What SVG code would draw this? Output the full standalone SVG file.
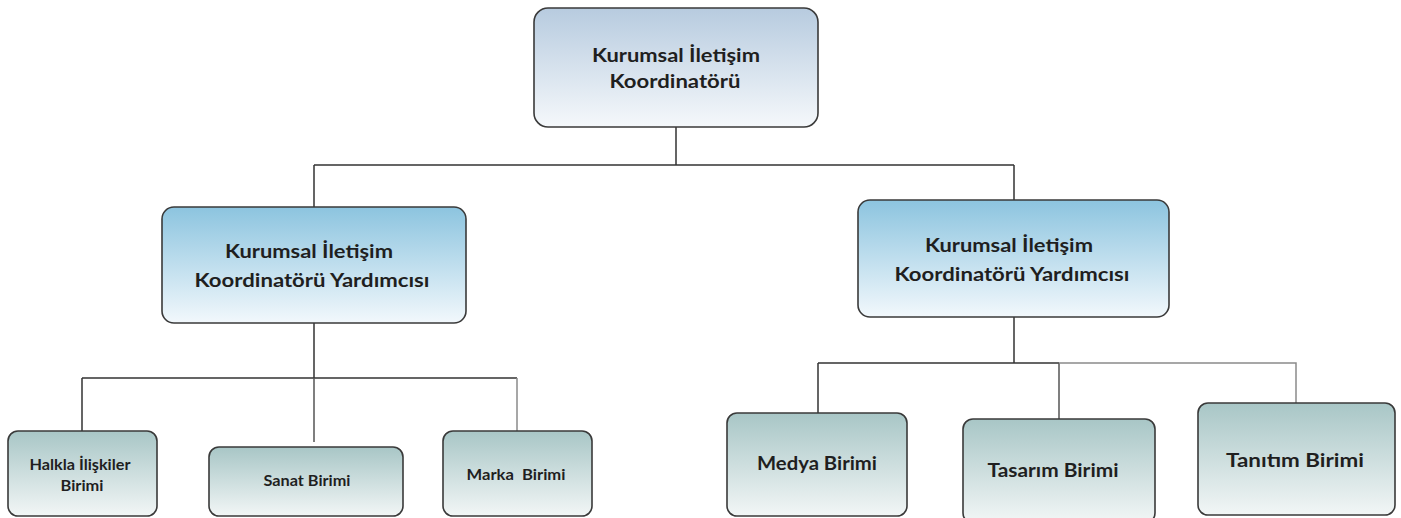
<svg xmlns="http://www.w3.org/2000/svg" width="1401" height="518" viewBox="0 0 1401 518">
<style>
.box{stroke:#3a3a3a;stroke-width:1.6}
.t{font-family:Lato,"Open Sans","Liberation Sans",sans-serif;font-weight:bold;fill:#1f1f1f;text-anchor:middle}
.big{font-size:19px}
.small{font-size:14.5px}
.pre{white-space:pre}
.c{fill:none;stroke:#333;stroke-width:1.5}
.cl{fill:none;stroke:#8a8a8a;stroke-width:1.5}
.cm{fill:none;stroke:#555;stroke-width:1.5}
</style>
<defs>
<linearGradient id="gTop" x1="0" y1="0" x2="0" y2="1">
<stop offset="0" stop-color="#b7cbdf"/>
<stop offset="1" stop-color="#f5f8fb"/>
</linearGradient>
<linearGradient id="gMid" x1="0" y1="0" x2="0" y2="1">
<stop offset="0" stop-color="#8cc4df"/>
<stop offset="1" stop-color="#f2f8fc"/>
</linearGradient>
<linearGradient id="gBot" x1="0" y1="0" x2="0" y2="1">
<stop offset="0" stop-color="#a8c6c6"/>
<stop offset="1" stop-color="#f2f6f6"/>
</linearGradient>
</defs>

<g id="connectors">
<path class="c" d="M676 127 V165 M314 165 H1014 M314 165 V207 M1014 165 V200"/>
<path class="c" d="M314 323 V378 M82 378 H517 M82 378 V431"/>
<path class="cm" d="M314 378 V442"/>
<path class="cl" d="M517 378 V431"/>
<path class="c" d="M1014 317 V363 M818 363 H1059 M818 363 V413"/>
<path class="cm" d="M1059 363 V419"/>
<path class="cl" d="M1059 363 H1296 V403"/>
</g>

<g id="node-top">
<rect class="box" x="534" y="8" width="284" height="119" rx="14" fill="url(#gTop)"/>
<text class="t big" x="676" y="62" textLength="168" lengthAdjust="spacingAndGlyphs">Kurumsal İletişim</text>
<text class="t big" x="675" y="88" textLength="131" lengthAdjust="spacingAndGlyphs">Koordinatörü</text>
</g>

<g id="node-mid-left">
<rect class="box" x="162" y="207" width="304" height="116" rx="12" fill="url(#gMid)"/>
<text class="t big" x="309" y="258" textLength="168" lengthAdjust="spacingAndGlyphs">Kurumsal İletişim</text>
<text class="t big" x="312" y="287" textLength="235" lengthAdjust="spacingAndGlyphs">Koordinatörü Yardımcısı</text>
</g>

<g id="node-mid-right">
<rect class="box" x="858" y="200" width="311" height="117" rx="12" fill="url(#gMid)"/>
<text class="t big" x="1009" y="252" textLength="168" lengthAdjust="spacingAndGlyphs">Kurumsal İletişim</text>
<text class="t big" x="1012" y="281" textLength="235" lengthAdjust="spacingAndGlyphs">Koordinatörü Yardımcısı</text>
</g>

<g id="node-halkla">
<rect class="box" x="8" y="431" width="149" height="85" rx="10" fill="url(#gBot)"/>
<text class="t small" x="80" y="470" textLength="101" lengthAdjust="spacingAndGlyphs">Halkla İlişkiler</text>
<text class="t small" x="82" y="491" textLength="43" lengthAdjust="spacingAndGlyphs">Birimi</text>
</g>

<g id="node-sanat">
<rect class="box" x="209" y="447" width="194" height="69" rx="10" fill="url(#gBot)"/>
<text class="t small" x="307" y="486" textLength="87" lengthAdjust="spacingAndGlyphs">Sanat Birimi</text>
</g>

<g id="node-marka">
<rect class="box" x="443" y="431" width="149" height="85" rx="10" fill="url(#gBot)"/>
<text class="t small pre" x="516" y="480" textLength="99" lengthAdjust="spacingAndGlyphs">Marka  Birimi</text>
</g>

<g id="node-medya">
<rect class="box" x="727" y="413" width="180" height="103" rx="10" fill="url(#gBot)"/>
<text class="t big" x="817" y="470" textLength="120" lengthAdjust="spacingAndGlyphs">Medya Birimi</text>
</g>

<g id="node-tasarim">
<rect class="box" x="963" y="419" width="192" height="104" rx="10" fill="url(#gBot)"/>
<text class="t big" x="1053" y="477" textLength="131" lengthAdjust="spacingAndGlyphs">Tasarım Birimi</text>
</g>

<g id="node-tanitim">
<rect class="box" x="1198" y="403" width="197" height="112" rx="10" fill="url(#gBot)"/>
<text class="t big" x="1295" y="467" textLength="138" lengthAdjust="spacingAndGlyphs">Tanıtım Birimi</text>
</g>
</svg>
